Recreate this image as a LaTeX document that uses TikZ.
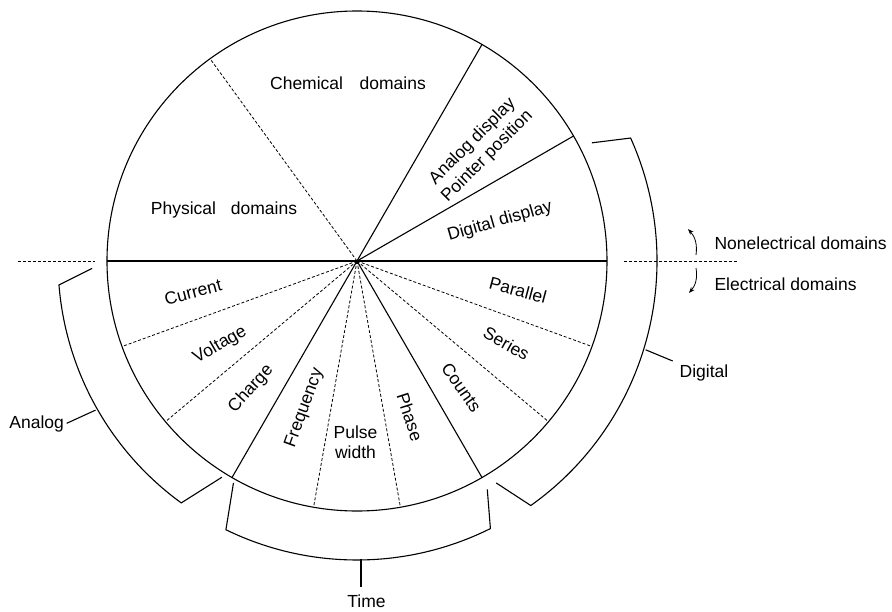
\documentclass[tikz,border=0pt]{standalone}
\usepackage{fontspec}
\setmainfont{Liberation Sans}
\usetikzlibrary{arrows.meta}
\begin{document}
\begin{tikzpicture}[x=1pt,y=1pt,line width=1.1pt,
  lbl/.style={font=\fontsize{17.5}{20}\selectfont, inner sep=0pt, align=center},
  dsh/.style={line width=0.8pt, dash pattern=on 3pt off 2pt},
  brk/.style={line width=1.1pt},
  arr/.style={line width=0.8pt, -{Stealth[length=6pt,width=4.5pt]}}]
\useasboundingbox (-357,-350) rectangle (535,261);
% main circle
\node[circle, draw, line width=1.1pt, minimum size=500pt, inner sep=0pt, outer sep=0pt] (C) at (0,0) {};
% solid rays
\draw (C.180) -- (C.0);
\draw (C.center) -- (C.30);
\draw (C.center) -- (C.60);
\draw (C.center) -- (C.240);
\draw (C.center) -- (C.300);
% dashed rays
\draw[dsh] (C.center) -- (C.126);
\draw[dsh] (C.center) -- (C.200);
\draw[dsh] (C.center) -- (C.220);
\draw[dsh] (C.center) -- (C.260);
\draw[dsh] (C.center) -- (C.280);
\draw[dsh] (C.center) -- (C.320);
\draw[dsh] (C.center) -- (C.340);
% sector labels
\node[lbl] (chem) at (-9,178) {Chemical\hspace{0.95em}domains};
\node[lbl] (phys) at (-133,51) {Physical\hspace{0.85em}domains};
\node[lbl, rotate=45, font=\fontsize{17.5}{21}\selectfont] (anal) at (123,112) {Analog display\\Pointer position};
\node[lbl, rotate=16] (digd) at (143,39.5) {Digital display};
\node[lbl, rotate=15] (curr) at (-164,-31) {Current};
\node[lbl, rotate=30] (volt) at (-137,-84) {Voltage};
\node[lbl, rotate=48] (chrg) at (-106,-128) {Charge};
\node[lbl, rotate=70] (freq) at (-52.5,-147) {Frequency};
\node[lbl] (pulse) at (-1.5,-181) {Pulse\\width};
\node[lbl, rotate=-72] (phase) at (53,-156) {Phase};
\node[lbl, rotate=-55] (counts) at (104.5,-126.5) {Counts};
\node[lbl, rotate=-29] (series) at (149.5,-82.5) {Series};
\node[lbl, rotate=-15] (par) at (161,-29) {Parallel};
% brackets
\draw[brk] (26.7:263) -- (24.2:300) arc[start angle=24.2, end angle=-54.6, radius=300] -- (-57.9:262);
\draw[brk] (181.6:265) -- (184.6:299) arc[start angle=184.6, end angle=234, radius=299] -- (238:255);
\draw[brk] (240.9:254) -- (244:299) arc[start angle=244, end angle=296.5, radius=299] -- (299.7:263);
% bracket labels
\node[lbl, anchor=center] (dig) at (347,-111.5) {Digital};
\node[lbl, anchor=center] (ana) at (-320.3,-163) {Analog};
\node[lbl, anchor=center] (time) at (9.5,-340.5) {Time};
\coordinate (d1) at (-17.1:302);
\coordinate (d2) at (315.7,-100);
\draw (d1) -- (d2);
\coordinate (a1) at (209.7:301);
\coordinate (a2) at (-290.3,-162.3);
\draw (a1) -- (a2);
\coordinate (t1) at (4,-298);
\coordinate (t2) at (4,-326);
\draw (t1) -- (t2);
% outer horizontal dashed lines
\coordinate (hl1) at (-339,0);
\coordinate (hl2) at (-262,0);
\coordinate (hr1) at (267,0);
\coordinate (hr2) at (381,0);
\draw[dsh] (hl1) -- (hl2);
\draw[dsh] (hr1) -- (hr2);
% domain arrows and labels
\node[lbl, anchor=west] (nonel) at (357,18) {Nonelectrical domains};
\node[lbl, anchor=west] (elec) at (357,-23) {Electrical domains};
\coordinate (u1) at (339,6);
\coordinate (u2) at (331,32);
\coordinate (l1) at (339,-7);
\coordinate (l2) at (332,-32);
\draw[arr] (u1) to[bend right=25] (u2);
\draw[arr] (l1) to[bend left=25] (l2);
\end{tikzpicture}
\end{document}
